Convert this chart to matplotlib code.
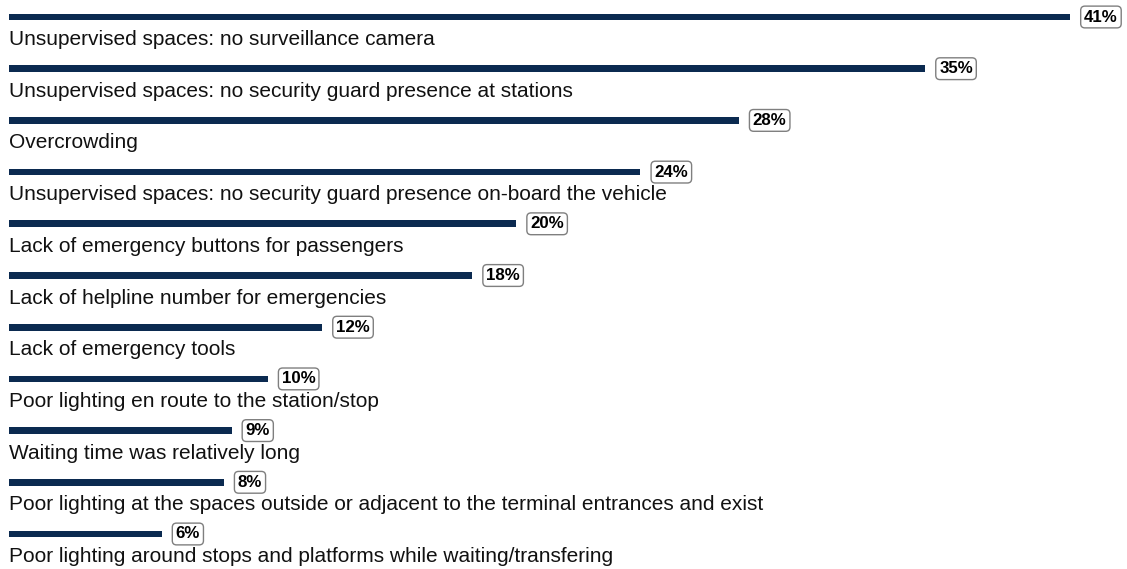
import matplotlib.pyplot as plt

plt.rcParams['font.family'] = ['Liberation Sans', 'DejaVu Sans']

reasons = [
    'Unsupervised spaces: no surveillance camera',
    'Unsupervised spaces: no security guard presence at stations',
    'Overcrowding',
    'Unsupervised spaces: no security guard presence on-board the vehicle',
    'Lack of emergency buttons for passengers',
    'Lack of helpline number for emergencies',
    'Lack of emergency tools',
    'Poor lighting en route to the station/stop',
    'Waiting time was relatively long',
    'Poor lighting at the spaces outside or adjacent to the terminal entrances and exist',
    'Poor lighting around stops and platforms while waiting/transfering',
]
share = [41.0, 35.4, 28.2, 24.4, 19.6, 17.9, 12.1, 10.0, 8.6, 8.3, 5.9]

bar_color = '#0b2a50'

fig = plt.figure(figsize=(11.27, 5.69), dpi=100)
ax = fig.add_axes([9 / 1127, 0, 1118 / 1127, 1])

pos = list(range(len(reasons)))
ax.barh(pos, share, height=0.13, color=bar_color)

for i, (name, v) in enumerate(zip(reasons, share)):
    # category name sits under its bar
    ax.annotate(name, (0, i), xytext=(0, -28), textcoords='offset pixels',
                ha='left', va='baseline', fontsize=15, color='#111111')
    ax.annotate(f'{v:.0f}%', (v, i), xytext=(14, 0), textcoords='offset pixels',
                ha='left', va='center', fontsize=12.2, fontweight='bold',
                bbox=dict(boxstyle='round,pad=0.2,rounding_size=0.25',
                          fc='white', ec='#7f7f7f', lw=1))

step = 51.7
ax.set_xlim(0, 1118 / 25.88)
ax.set_ylim((569 - 17) / step, -17 / step)
ax.axis('off')

fig.savefig('out.png', dpi=100)
